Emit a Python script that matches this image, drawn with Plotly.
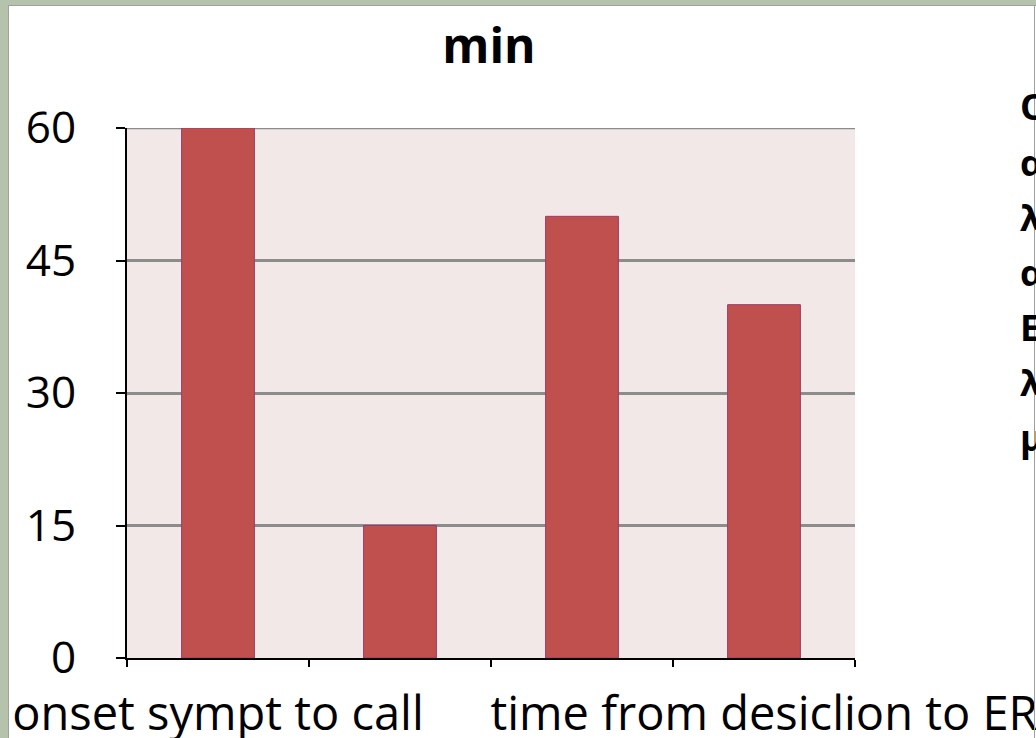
import plotly.graph_objects as go

categories = ["onset sympt to call", "call to arrival", "arrival to desicion", "time from desiclion to ER"]
values = [60, 15, 50, 40]
y_ticks = [0, 15, 30, 45, 60]
shown_labels = [0, 3]
title_text = "min"
side_lines = ["Ολικός", "απαιτούμενος", "λόγος", "αναμονής", "Επείγοντα", "λεπτά", "μέχρι"]

W, H = 1036, 738
L, R, T, B = 127, 855, 128, 658

def px(x):
    return (x - L) / (R - L)

def py(y):
    return (B - y) / (B - T)

xpos = list(range(len(categories)))

fig = go.Figure()
fig.add_trace(go.Bar(
    x=xpos, y=values, width=0.4,
    marker=dict(color="#C0504D", line=dict(color="#9C3B6A", width=1)),
    hoverinfo="skip", showlegend=False,
))
fig.add_trace(go.Scatter(
    x=[xpos[0]], y=[0], xaxis="x2", mode="markers",
    marker=dict(opacity=0), hoverinfo="skip", showlegend=False,
))

font_family = "Open Sans, Noto Sans, sans-serif"

fig.update_layout(
    width=W, height=H, autosize=False,
    margin=dict(l=L, r=W - R, t=T, b=H - B, pad=0, autoexpand=False),
    paper_bgcolor="white",
    plot_bgcolor="#F2E8E8",
    bargap=0.6,
    title=dict(text="<b>" + title_text + "</b>", x=px(489), xref="paper", xanchor="center",
               y=1 - 46 / H, yref="container", yanchor="middle",
               font=dict(family=font_family, size=48, color="black")),
    xaxis=dict(
        range=[-0.5, len(categories) - 0.5],
        tickvals=[i - 0.5 for i in range(len(categories) + 1)],
        ticktext=[""] * (len(categories) + 1),
        ticks="outside", ticklen=7, tickwidth=2, tickcolor="black",
        showline=True, linecolor="black", linewidth=2,
        showgrid=False, zeroline=False, fixedrange=True, automargin=False,
    ),
    xaxis2=dict(
        overlaying="x", matches="x", side="bottom", anchor="y",
        tickvals=[xpos[i] for i in shown_labels],
        ticktext=[categories[i] for i in shown_labels],
        tickangle=0, automargin=False, ticklabeloverflow="allow",
        ticks="", showline=False, showgrid=False, zeroline=False,
        tickfont=dict(family=font_family, size=47, color="black"),
        ticklabelstandoff=24,
    ),
    yaxis=dict(
        range=[0, 60], tickvals=y_ticks, ticktext=[str(v) for v in y_ticks],
        ticks="outside", ticklen=9, tickwidth=2, tickcolor="black",
        showline=True, linecolor="black", linewidth=2, automargin=False,
        showgrid=True, gridcolor="#8C8C8C", gridwidth=2.5, zeroline=False,
        tickfont=dict(family=font_family, size=44, color="black"),
        ticklabelstandoff=31,
    ),
)

green = "#B6C3AC"
shapes = [
    dict(type="line", xref="paper", yref="y", x0=0, x1=1, y0=y_ticks[-1], y1=y_ticks[-1],
         line=dict(color="#8C8C8C", width=2.5), layer="below"),
    dict(type="rect", xref="paper", yref="paper", x0=px(0), x1=px(8), y0=py(H), y1=py(0),
         fillcolor=green, line=dict(width=0), layer="above"),
    dict(type="rect", xref="paper", yref="paper", x0=px(0), x1=px(W), y0=py(5), y1=py(0),
         fillcolor=green, line=dict(width=0), layer="above"),
    dict(type="line", xref="paper", yref="paper", x0=px(8.5), x1=px(8.5), y0=py(H), y1=py(5),
         line=dict(color="#A0A0A0", width=1), layer="above"),
    dict(type="line", xref="paper", yref="paper", x0=px(8), x1=px(W), y0=py(5.5), y1=py(5.5),
         line=dict(color="#A0A0A0", width=1), layer="above"),
    dict(type="line", xref="paper", yref="paper", x0=px(1034.5), x1=px(1034.5), y0=py(H), y1=py(5),
         line=dict(color="#A0A0A0", width=1), layer="above"),
]
fig.update_layout(shapes=shapes)

baselines = [119, 174, 229, 284, 339, 394, 449]
for txt, bl in zip(side_lines, baselines):
    fig.add_annotation(
        text="<b>" + txt + "</b>", xref="paper", yref="paper",
        x=px(1018), y=py(bl - 12), xanchor="left", yanchor="middle",
        showarrow=False, font=dict(family=font_family, size=36, color="black"),
    )

fig.write_html("out.html", config={"displayModeBar": False},
               post_script="document.body.style.margin='0px';document.body.style.overflow='hidden';")
